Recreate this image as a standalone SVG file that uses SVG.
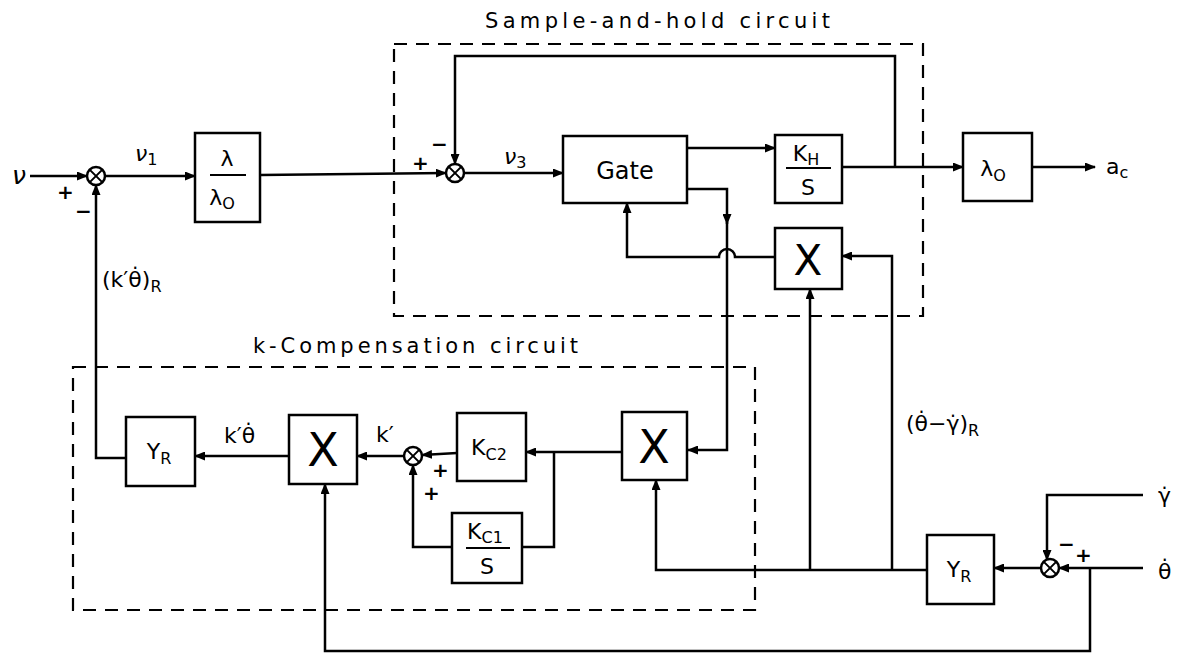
<svg xmlns="http://www.w3.org/2000/svg" width="1178" height="657" viewBox="0 0 1178 657">
<defs>
<marker id="ah" markerUnits="userSpaceOnUse" markerWidth="11" markerHeight="9" refX="10" refY="4.5" orient="auto">
<path d="M0,0 L11,4.5 L0,9 z" fill="#000"/>
</marker>
<style>
.ln{fill:none;stroke:#000;stroke-width:2.5;stroke-linejoin:miter}
.box{fill:#fff;stroke:#000;stroke-width:2.5}
.dash{fill:none;stroke:#000;stroke-width:2.2;stroke-dasharray:13 9}
.sum{fill:#fff;stroke:#000;stroke-width:2.5}
text{font-family:"DejaVu Sans","Liberation Sans",sans-serif;fill:#000}
.t{font-size:22px}
.big{font-size:46px;font-weight:normal}
.sub{font-size:16px}
.it{font-style:italic}
.sg{font-size:20px;font-weight:bold}
.ttl{font-size:21px}
</style>
</defs>
<rect width="1178" height="657" fill="#fff"/>

<g id="frames">
<rect class="dash" x="394" y="44" width="529" height="272"/>
<rect class="dash" x="73" y="367" width="682" height="243"/>
<text class="ttl" x="485" y="28" textLength="345" lengthAdjust="spacing">Sample-and-hold circuit</text>
<text class="ttl" x="253" y="353" textLength="325" lengthAdjust="spacing">k-Compensation circuit</text>
</g>

<g id="connectors">
<path class="ln" d="M30,176 L87,176" marker-end="url(#ah)"/>
<path class="ln" d="M105,176 L195,176" marker-end="url(#ah)"/>
<path class="ln" d="M260,175 L446,173" marker-end="url(#ah)"/>
<path class="ln" d="M464,173 L563,173" marker-end="url(#ah)"/>
<path class="ln" d="M687,148 L775,148" marker-end="url(#ah)"/>
<path class="ln" d="M842,167 L963,167" marker-end="url(#ah)"/>
<path class="ln" d="M1032,167 L1095,167" marker-end="url(#ah)"/>
<path class="ln" d="M895,167 L895,56 L455,56 L455,164" marker-end="url(#ah)"/>
<path class="ln" d="M687,189 L727,189 L727,224" marker-end="url(#ah)"/>
<path class="ln" d="M727,222 L727,450 L688,450" marker-end="url(#ah)"/>
<path class="ln" d="M775,257 L735,257 A8,8 0 0 0 719,257 L627,257 L627,203" marker-end="url(#ah)"/>
<path class="ln" d="M892,570 L892,256 L842,256" marker-end="url(#ah)"/>
<path class="ln" d="M810,570 L810,289" marker-end="url(#ah)"/>
<path class="ln" d="M927,570 L656,570 L656,480" marker-end="url(#ah)"/>
<path class="ln" d="M622,452 L526,452" marker-end="url(#ah)"/>
<path class="ln" d="M554,452 L554,547 L522,547"/>
<path class="ln" d="M457,453 L422,455" marker-end="url(#ah)"/>
<path class="ln" d="M452,547 L413,547 L413,465" marker-end="url(#ah)"/>
<path class="ln" d="M404,456 L357,456" marker-end="url(#ah)"/>
<path class="ln" d="M289,456 L195,456" marker-end="url(#ah)"/>
<path class="ln" d="M126,458 L96,458 L96,185" marker-end="url(#ah)"/>
<path class="ln" d="M1143,568 L1059,568" marker-end="url(#ah)"/>
<path class="ln" d="M1143,495 L1047,495 L1047,560" marker-end="url(#ah)"/>
<path class="ln" d="M1041,568 L994,568" marker-end="url(#ah)"/>
<path class="ln" d="M1090,568 L1090,651 L325,651 L325,484" marker-end="url(#ah)"/>
</g>

<g id="sum1">
<circle class="sum" cx="96" cy="176" r="9"/>
<path class="ln" d="M89.6,169.6 L102.4,182.4 M102.4,169.6 L89.6,182.4" style="stroke-width:2"/>
</g>
<g id="sum2">
<circle class="sum" cx="455" cy="173" r="9"/>
<path class="ln" d="M448.6,166.6 L461.4,179.4 M461.4,166.6 L448.6,179.4" style="stroke-width:2"/>
</g>
<g id="sum3">
<circle class="sum" cx="413" cy="456" r="9"/>
<path class="ln" d="M406.6,449.6 L419.4,462.4 M419.4,449.6 L406.6,462.4" style="stroke-width:2"/>
</g>
<g id="sum4">
<circle class="sum" cx="1050" cy="568" r="9"/>
<path class="ln" d="M1043.6,561.6 L1056.4,574.4 M1056.4,561.6 L1043.6,574.4" style="stroke-width:2"/>
</g>

<g id="lambda_ratio">
<rect class="box" x="195" y="133" width="65" height="89"/>
<text class="t" x="227" y="166" text-anchor="middle">λ</text>
<line class="ln" x1="210" y1="175" x2="246" y2="175" style="stroke-width:2"/>
<text class="t" x="222" y="205" text-anchor="middle">λ<tspan class="sub" dy="4">O</tspan></text>
</g>
<g id="gate">
<rect class="box" x="563" y="136" width="124" height="67"/>
<text class="t" x="625" y="179" text-anchor="middle" style="font-size:24px">Gate</text>
</g>
<g id="kh">
<rect class="box" x="775" y="135" width="67" height="68"/>
<text class="t" x="806" y="161" text-anchor="middle">K<tspan class="sub" dy="4">H</tspan></text>
<line class="ln" x1="786" y1="168" x2="831" y2="168" style="stroke-width:2"/>
<text class="t" x="808" y="195" text-anchor="middle">S</text>
</g>
<g id="lambda0">
<rect class="box" x="963" y="133" width="69" height="68"/>
<text class="t" x="993" y="176" text-anchor="middle">λ<tspan class="sub" dy="5">O</tspan></text>
</g>
<g id="mult_top">
<rect class="box" x="775" y="228" width="67" height="61"/>
<text class="big" x="808" y="275" text-anchor="middle" style="font-size:42px">X</text>
</g>
<g id="mult_kright">
<rect class="box" x="622" y="412" width="65" height="68"/>
<text class="big" x="654" y="463" text-anchor="middle">X</text>
</g>
<g id="kc2">
<rect class="box" x="457" y="413" width="69" height="68"/>
<text class="t" x="489" y="455" text-anchor="middle">K<tspan class="sub" dy="5">C2</tspan></text>
</g>
<g id="kc1">
<rect class="box" x="452" y="513" width="70" height="70"/>
<text class="t" x="485" y="539" text-anchor="middle">K<tspan class="sub" dy="4">C1</tspan></text>
<line class="ln" x1="466" y1="548" x2="510" y2="548" style="stroke-width:2"/>
<text class="t" x="487" y="574" text-anchor="middle">S</text>
</g>
<g id="mult_kleft">
<rect class="box" x="289" y="415" width="68" height="69"/>
<text class="big" x="323" y="466" text-anchor="middle">X</text>
</g>
<g id="yr_left">
<rect class="box" x="126" y="417" width="69" height="69"/>
<text class="t" x="159" y="459" text-anchor="middle">Y<tspan class="sub" dy="5">R</tspan></text>
</g>
<g id="yr_right">
<rect class="box" x="927" y="535" width="67" height="69"/>
<text class="t" x="959" y="577" text-anchor="middle">Y<tspan class="sub" dy="5">R</tspan></text>
</g>

<g id="labels">
<text class="t it" x="12" y="184" style="font-size:25px">ν</text>
<text class="sg" x="57" y="199">+</text>
<text class="sg" x="75" y="218">−</text>
<text class="t it" x="135" y="161">ν<tspan class="sub" dy="4" style="font-style:normal">1</tspan></text>
<text class="t" x="102" y="287">(k′θ̇)<tspan class="sub" dy="5">R</tspan></text>
<text class="sg" x="412" y="170">+</text>
<text class="sg" x="431" y="151">−</text>
<text class="t it" x="504" y="164">ν<tspan class="sub" dy="4" style="font-style:normal">3</tspan></text>
<text class="t" x="1106" y="174">a<tspan class="sub" dy="4">c</tspan></text>
<text class="t" x="224" y="443">k′θ̇</text>
<text class="t" x="376" y="442">k′</text>
<text class="sg" x="432" y="477">+</text>
<text class="sg" x="423" y="500">+</text>
<text class="t" x="906" y="431">(θ̇−γ̇)<tspan class="sub" dy="5">R</tspan></text>
<text class="sg" x="1058" y="551">−</text>
<text class="sg" x="1075" y="562">+</text>
<text class="t" x="1158" y="503">γ̇</text>
<text class="t" x="1158" y="579">θ̇</text>
</g>
</svg>
